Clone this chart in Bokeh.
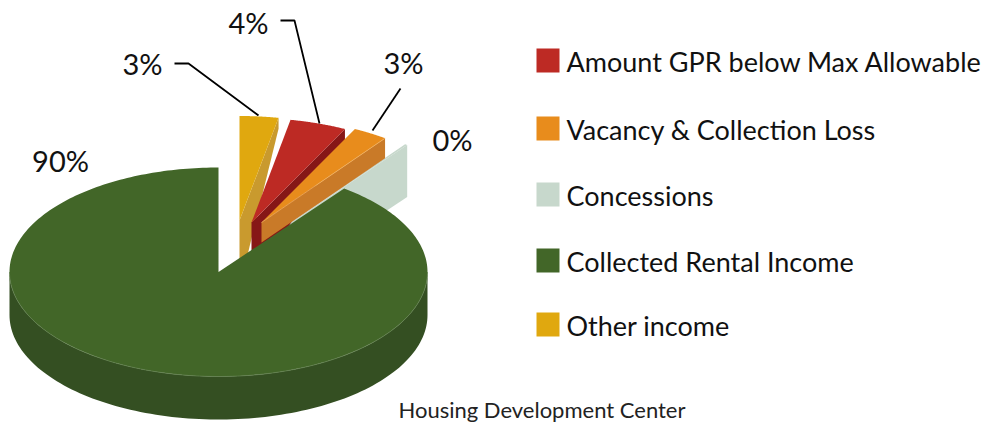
import numpy as np
from bokeh.plotting import figure
from bokeh.models import Range1d
from bokeh.core.properties import value
from bokeh.embed import file_html
from bokeh.resources import INLINE

categories = ["Amount GPR below Max  Allowable", "Vacancy & Collection Loss", "Concessions",
              "Collected Rental Income", "Other income"]
shares = [4.4, 2.7, 0.2, 90.0, 3.0]
pct_labels = ["4%", "3%", "0%", "90%", "3%"]
top_colors = ["#BD2A24", "#E88C1C", "#C7D8CC", "#426628", "#E0A80F"]
side_colors = ["#861717", "#C97A28", "#C7D8CC", "#344F22", "#C99A2E"]

FONT = value("Lato")
p = figure(width=984, height=423, x_range=Range1d(0, 984), y_range=Range1d(423, 0),
           output_backend="svg", toolbar_location=None, min_border=0,
           x_axis_location=None, y_axis_location=None, outline_line_color=None,
           background_fill_color="white", border_fill_color="white")
p.grid.visible = False

CX, CY, RX, RY, DEPTH = 218.0, 271.5, 209.0, 104.5, 43.0
angles = np.array(shares) / sum(shares) * 360.0
# clockwise from 12 o'clock: Other income comes first, then the legend order
order = [4, 0, 1, 2, 3]
spans = {}
start = 0.0
for i in order:
    spans[i] = (start, start + angles[i])
    start += angles[i]


def rim(ax, ay, a0, a1, n=60):
    t = np.radians(np.linspace(a0, a1, n))
    return ax + RX * np.sin(t), ay - RY * np.cos(t)


# exploded wedges: apex position, wall depth at the rim, wall depth at the apex
explode = {2: (281.0, 228.0, 52.0, 52.0),
           4: (239.0, 220.0, 11.0, 67.0),
           0: (251.0, 222.0, 12.0, 60.0),
           1: (261.0, 222.0, 20.0, 20.0)}

for i in [2, 4, 0, 1]:
    ax, ay, d_out, d_in = explode[i]
    a0, a1 = spans[i]
    ox, oy = rim(ax, ay, a1, a1, 1)
    p.patch([ax, ox[0], ox[0], ax], [ay, oy[0], oy[0] + d_out, ay + d_in],
            fill_color=side_colors[i], line_color=None)
    rx_, ry_ = rim(ax, ay, a0, a1)
    p.patch(np.r_[ax, rx_], np.r_[ay, ry_], fill_color=top_colors[i], line_color=None)
    if i == 1:
        p.line([ax, ox[0]], [ay, oy[0]], line_color="#F0B060", line_width=0.8)

# main slice: side first, then the top
g0, g1 = spans[3]
sx, sy = rim(CX, CY, 90, 270, 120)
p.patch(np.r_[sx, sx[::-1]], np.r_[sy, sy[::-1] + DEPTH], fill_color=side_colors[3], line_color=None)
tx, ty = rim(CX, CY, g0, g1, 300)
p.patch(np.r_[CX, tx], np.r_[CY, ty], fill_color=top_colors[3], line_color=None)
p.line(sx, sy, line_color="#62804F", line_width=0.8)

# leader lines
p.line([174, 188, 258], [63, 63, 115], line_color="black", line_width=1.8)
p.line([280, 294, 319], [20, 20, 123], line_color="black", line_width=1.8)
p.line([400, 372], [88, 130], line_color="black", line_width=1.8)

# data labels
lab_x = [248, 403, 452, 60, 142]
lab_y = [21.5, 61.5, 138.5, 159.5, 62.5]
p.text(lab_x, lab_y, text=pct_labels, text_font=FONT, text_font_size="29px",
       text_align="center", text_baseline="middle", text_color="#111111")

# legend
leg_y = [60, 128, 194, 260, 324]
p.quad(left=[536] * 5, right=[559] * 5, top=[y - 12 for y in leg_y], bottom=[y + 12 for y in leg_y],
       fill_color=top_colors, line_color=None)
p.text([566] * 5, [y + 1 for y in leg_y], text=categories, text_font=FONT, text_font_size="27px",
       text_align="left", text_baseline="middle", text_color="#111111")

p.text([398], [409], text=["Housing Development Center"], text_font=FONT, text_font_size="22px",
       text_align="left", text_baseline="middle", text_color="#222222")

open("out.html", "w").write(file_html(p, INLINE))
